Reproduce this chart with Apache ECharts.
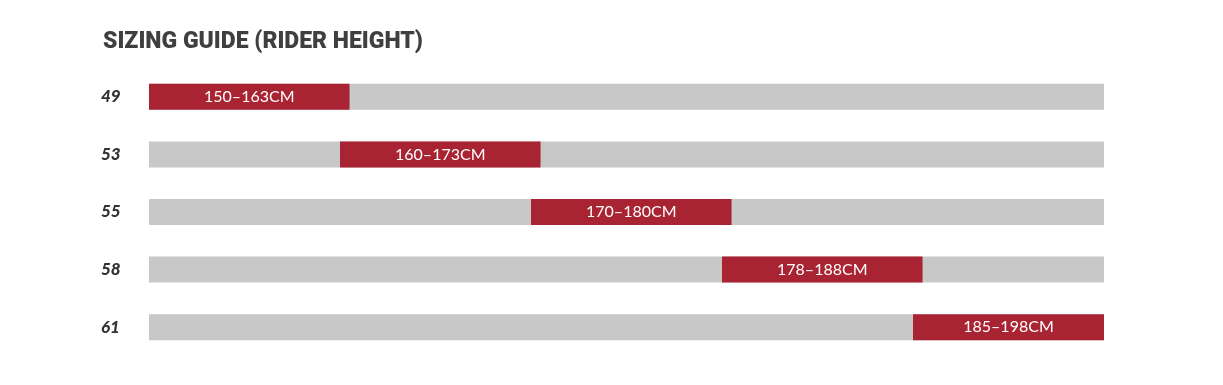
<!DOCTYPE html>
<html><head><meta charset="utf-8">
<script src="https://cdn.jsdelivr.net/npm/echarts@6/dist/echarts.min.js"></script>
<style>html,body{margin:0;padding:0;background:#fff}#c{width:1223px;height:385px}</style>
</head><body><div id="c"></div>
<script>
const sizes = ['49', '53', '55', '58', '61'];
const rangeLabels = ['150–163CM', '160–173CM', '170–180CM', '178–188CM', '185–198CM'];
const barStart = [0, 20, 40, 60, 80];
const barEnd = [21, 41, 61, 81, 100];
const trackFull = [100, 100, 100, 100, 100];

const chart = echarts.init(document.getElementById('c'));
chart.setOption({
  animation: false,
  title: {
    text: 'SIZING GUIDE (RIDER HEIGHT)',
    left: 98, top: 26,
    textStyle: { fontFamily: 'Roboto', fontWeight: 900, fontSize: 23, color: '#3f3f3f' }
  },
  grid: { left: 149, right: 119, top: 68, bottom: 29 },
  xAxis: { type: 'value', min: 0, max: 100, show: false },
  yAxis: {
    type: 'category', data: sizes, inverse: true,
    axisLine: { show: false }, axisTick: { show: false }, splitLine: { show: false },
    axisLabel: { align: 'left', margin: 48, fontFamily: 'Lato', fontStyle: 'italic', fontWeight: 900, fontSize: 17, color: '#333' }
  },
  series: [
    { type: 'bar', name: 'track', data: trackFull, barWidth: 26, barGap: '-100%', itemStyle: { color: '#c8c8c8' }, silent: true },
    { type: 'bar', name: 'offset', stack: 'r', data: barStart, barWidth: 26, itemStyle: { color: 'transparent' }, silent: true },
    { type: 'bar', name: 'range', stack: 'r', barWidth: 26,
      data: barEnd.map((e, i) => e - barStart[i]),
      itemStyle: { color: '#a92432' },
      label: { show: true, position: 'inside', color: '#fff', fontFamily: 'Lato', fontSize: 16,
        formatter: p => rangeLabels[p.dataIndex] } }
  ]
});
</script></body></html>
